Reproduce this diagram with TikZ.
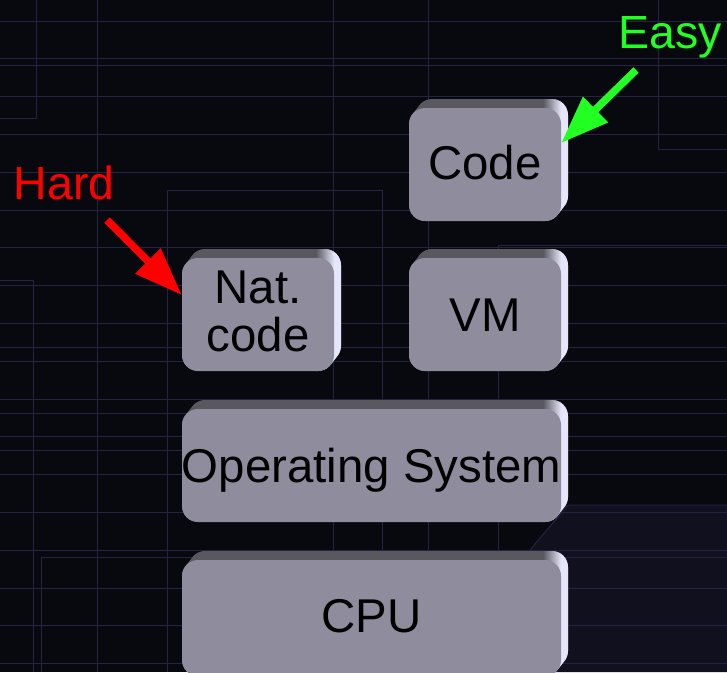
\documentclass[tikz,border=0pt]{standalone}
\usepackage{fontspec}
\setmainfont{Liberation Sans}
\usetikzlibrary{arrows.meta,calc}
\definecolor{bgc}{RGB}{8,8,15}
\definecolor{bgtwo}{RGB}{17,16,31}
\definecolor{gridc}{RGB}{36,35,68}
\definecolor{facec}{RGB}{143,141,157}
\definecolor{bevdark}{RGB}{88,88,94}
\definecolor{bevlight}{RGB}{230,230,250}
\definecolor{hardc}{RGB}{255,0,0}
\definecolor{easyc}{RGB}{34,255,34}
\newcommand\slabback[4]{%
  \begin{scope}
    \clip[rounded corners=16pt] \foreach \t in {0,0.1,...,1.01} {(#1+7*\t,#2-9*\t) rectangle (#3+7*\t,#4-9*\t)};
    \fill[bevdark] (#1,#2-12) rectangle (#3+10,#4);
    \shade[left color=bevdark,right color=bevlight] (#3-18,#2-12) rectangle (#3,#4);
    \fill[bevlight] (#3,#2-12) rectangle (#3+10,#4);
  \end{scope}}
\tikzset{
  face/.style={rectangle, rounded corners=16pt, fill=facec, draw=none, inner sep=0pt},
  boxtext/.style={inner sep=0pt, text=black, font=\fontsize{47.4}{48}\selectfont},
  lbltext/.style={inner sep=0pt, font=\fontsize{46.5}{48}\selectfont},
  gridline/.style={draw=gridc, line width=1pt},
  pointer/.style={line width=7.5pt, -{Triangle[length=48pt,width=34pt]}},
}
\begin{document}
\begin{tikzpicture}[x=1pt,y=-1pt]
\useasboundingbox (0,0) rectangle (727,672);
\clip (0,0) rectangle (727,672);
% background
\fill[bgc] (0,0) rectangle (727,672);
\fill[bgtwo] (568,505) -- (727,505) -- (727,672) -- (427,672) -- cycle;
\foreach \k in {0,...,17} \draw[gridline] (0,21+37.8*\k) -- (727,21+37.8*\k);
\foreach \yy in {65,347,413,450} \draw[gridline] (0,\yy) -- (727,\yy);
\foreach \xx in {97,333,428} \draw[gridline] (\xx,0) -- (\xx,672);
\draw[gridline] (0,118) -- (36,118) -- (36,0);
\draw[gridline] (0,280) -- (33,280) -- (33,672);
\draw[gridline] (167,672) -- (167,190) -- (382,190) -- (382,672);
\draw[gridline] (498,672) -- (498,245) -- (727,245);
\draw[gridline] (658,0) -- (658,149) -- (727,149);
\draw[gridline] (41,672) -- (41,557) -- (727,557);
\draw[gridline] (530,550) -- (568,505) -- (727,505);
% boxes
\slabback{409}{108}{561}{221}
\node[face, minimum width=152pt, minimum height=113pt] (code) at (485,164.5) {};
\slabback{182}{258}{334}{371}
\node[face, minimum width=152pt, minimum height=113pt] (nat) at (258,314.5) {};
\slabback{409}{258}{561}{371}
\node[face, minimum width=152pt, minimum height=113pt] (vm) at (485,314.5) {};
\slabback{182}{409}{561}{522}
\node[face, minimum width=379pt, minimum height=113pt] (os) at (371.5,465.5) {};
\slabback{182}{560}{561}{676}
\node[face, minimum width=379pt, minimum height=116pt] (cpu) at (371.5,618) {};
% box texts
\node[boxtext, anchor=base] (codet) at (485,179) {Code};
\node[boxtext, anchor=base] (natt) at (258,303) {Nat.};
\node[boxtext, anchor=base] (natt2) at (258,351) {code};
\node[boxtext, anchor=base] (vmt) at (485,331) {VM};
\node[boxtext, anchor=base] (ost) at (371.5,482) {Operating System};
\node[boxtext, anchor=base] (cput) at (371.5,632) {CPU};
% labels and arrows
\node[lbltext, text=hardc, anchor=base] (hard) at (64,199) {Hard};
\node[lbltext, text=easyc, anchor=base] (easy) at (670,48) {Easy};
\coordinate (hardfrom) at (107,220);
\coordinate (easyfrom) at (636,70);
\draw[pointer, draw=hardc, fill=hardc] (hardfrom) -- ($(nat.west)+(0,-19.5)$);
\draw[pointer, draw=easyc, fill=easyc] (easyfrom) -- ($(code.east)+(0,-21.5)$);
\end{tikzpicture}
\end{document}
